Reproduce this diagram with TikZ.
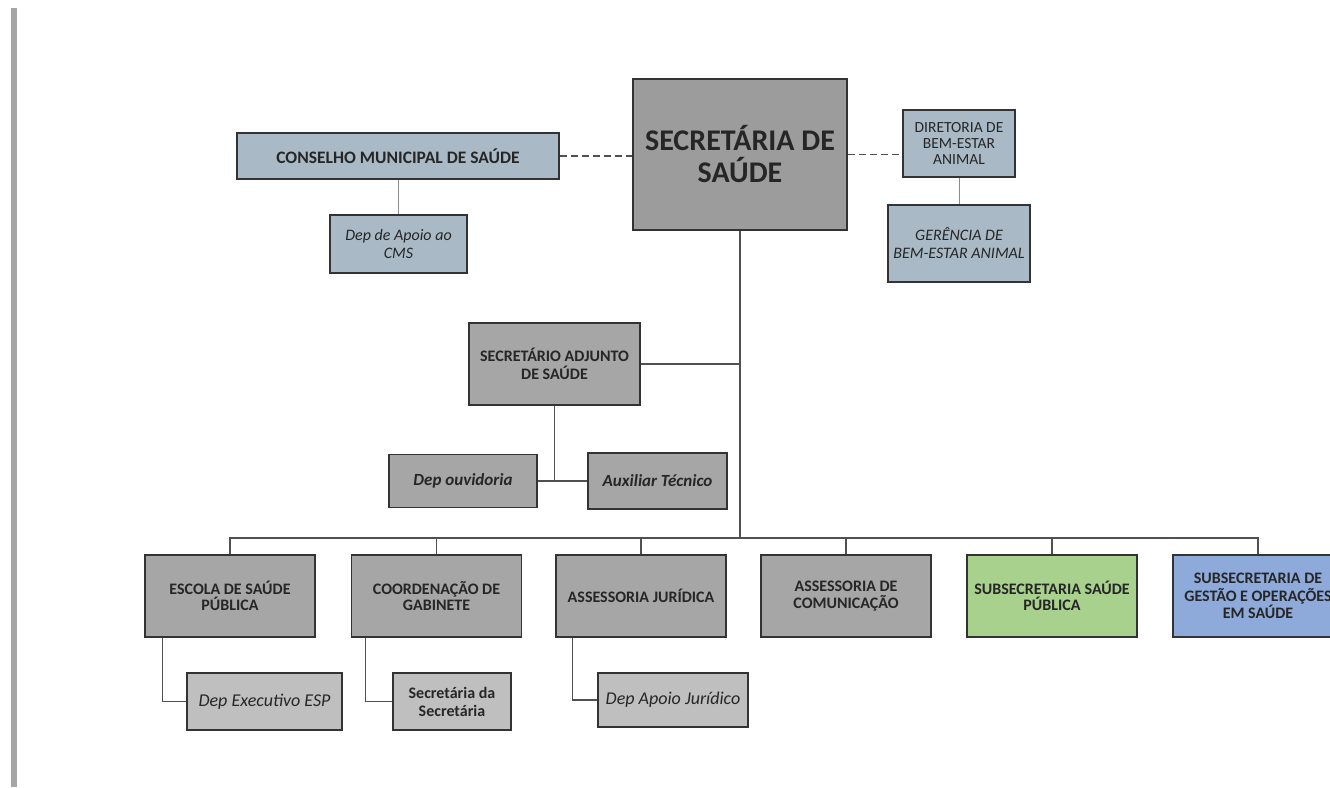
\documentclass[tikz,border=0pt]{standalone}
\usepackage{fontspec}
\setmainfont{Carlito}
\definecolor{boxgrey}{HTML}{A6A6A6}
\definecolor{topgrey}{HTML}{9C9C9C}
\definecolor{subgrey}{HTML}{BFBFBF}
\definecolor{cmsblue}{HTML}{A9BAC6}
\definecolor{spgreen}{HTML}{A9D18E}
\definecolor{gobblue}{HTML}{8EAADB}
\definecolor{linegrey}{HTML}{505050}
\newcommand{\fs}[2]{\fontsize{#1}{#2}\selectfont}

\begin{document}
\begin{tikzpicture}[
    x=1pt,y=-1pt,
    box/.style={draw=black!80,line width=1.5pt,fill=boxgrey,align=center,inner sep=2pt,
      text=black!85,font=\bfseries\fs{16}{16.5}},
    unit/.style={box,minimum width=170pt,minimum height=82pt},
    sub/.style={box,fill=subgrey,minimum height=57pt,font=\itshape\fs{18}{19}},
    council/.style={box,fill=cmsblue},
    link/.style={draw=linegrey,line width=1.4pt},
    thin/.style={draw=black!45,line width=1pt},
    assoc/.style={draw=linegrey,line width=1.4pt,dash pattern=on 7pt off 4pt}
    ]
    \useasboundingbox (0,0) rectangle (1330,787);
    \fill[black!35] (11,8) rectangle (17,787);

    \node[box,fill=topgrey,minimum width=214pt,minimum height=151pt,font=\bfseries\fs{30}{32}]
      (sec) at (740,154.5) {SECRET\'ARIA DE\\SA\'UDE};
    \node[council,minimum width=322pt,minimum height=46pt,font=\bfseries\fs{17.5}{18}]
      (cms) at (398,156) {CONSELHO MUNICIPAL DE SA\'UDE};
    \node[council,minimum width=137pt,minimum height=58pt,font=\itshape\fs{16}{18}]
      (apcms) at (398.5,244) {Dep de Apoio ao\\CMS};
    \node[council,minimum width=112pt,minimum height=67pt,font=\fs{15.5}{16}]
      (dir) at (959,143.5) {DIRETORIA DE\\BEM-ESTAR\\ANIMAL};
    \node[council,minimum width=142pt,minimum height=77pt,font=\itshape\fs{16}{18}]
      (ger) at (959,243.5) {GER\^ENCIA DE\\BEM-ESTAR ANIMAL};

    \node[box,minimum width=171pt,minimum height=82pt,font=\bfseries\fs{16}{17.5}] (adj) at (554.5,364)
      {SECRET\'ARIO ADJUNTO\\DE SA\'UDE};
    \node[box,minimum width=148pt,minimum height=53pt,font=\bfseries\itshape\fs{17}{18}]
      (ouv) at (463,481) {Dep ouvidoria};
    \node[box,minimum width=139pt,minimum height=56pt,font=\bfseries\itshape\fs{17}{18}]
      (aux) at (657.5,481) {Auxiliar T\'ecnico};

    \node[unit] (esc) at (230,596) {ESCOLA DE SA\'UDE\\P\'UBLICA};
    \node[unit] (coord) at (436.5,596) {COORDENA\c{C}\~AO DE\\GABINETE};
    \node[unit] (jur) at (641,596) {ASSESSORIA JUR\'IDICA};
    \node[unit] (com) at (846,596) {ASSESSORIA DE\\COMUNICA\c{C}\~AO};
    \node[unit,fill=spgreen] (ssp) at (1052,596) {SUBSECRETARIA SA\'UDE\\P\'UBLICA};
    \node[unit,fill=gobblue,font=\bfseries\fs{16}{17.5}] (sgo) at (1258,596)
      {SUBSECRETARIA DE\\GEST\~AO E OPERA\c{C}\~OES\\EM SA\'UDE};

    \node[sub,minimum width=155pt] (exec) at (264.5,701.5) {Dep Executivo ESP};
    \node[sub,minimum width=118pt,font=\bfseries\fs{16}{18}] (secsec) at (452,701.5)
      {Secret\'aria da\\Secret\'aria};
    \node[sub,minimum width=150pt,minimum height=54pt] (apjur) at (673,700) {Dep Apoio Jur\'idico};

    \coordinate (bus) at (sec.south |- 0,538);

    \draw[assoc] (cms.east) -- (cms.east -| sec.west);
    \draw[assoc] (sec.east) -- (sec.east -| dir.west);
    \draw[thin] (cms.south) -- (cms.south |- apcms.north);
    \draw[thin] (dir.south) -- (ger.north);

    \draw[link] (sec.south) -- (bus);
    \draw[link] (adj.east) -- (adj.east -| bus);
    \draw[link] (adj.south) -- (adj.south |- ouv.east);
    \draw[link] (ouv.east) -- (aux.west);
    \draw[link] (esc.north) |- (bus) -| (sgo.north);
    \foreach \n in {coord,jur,com,ssp}
      \draw[link] (\n.north) -- (\n.north |- bus);
    \draw[link] ([xshift=18pt]esc.south west) |- (exec.west);
    \draw[link] ([xshift=15pt]coord.south west) |- (secsec.west);
    \draw[link] ([xshift=17pt]jur.south west) |- (apjur.west);
  \end{tikzpicture}
\end{document}
